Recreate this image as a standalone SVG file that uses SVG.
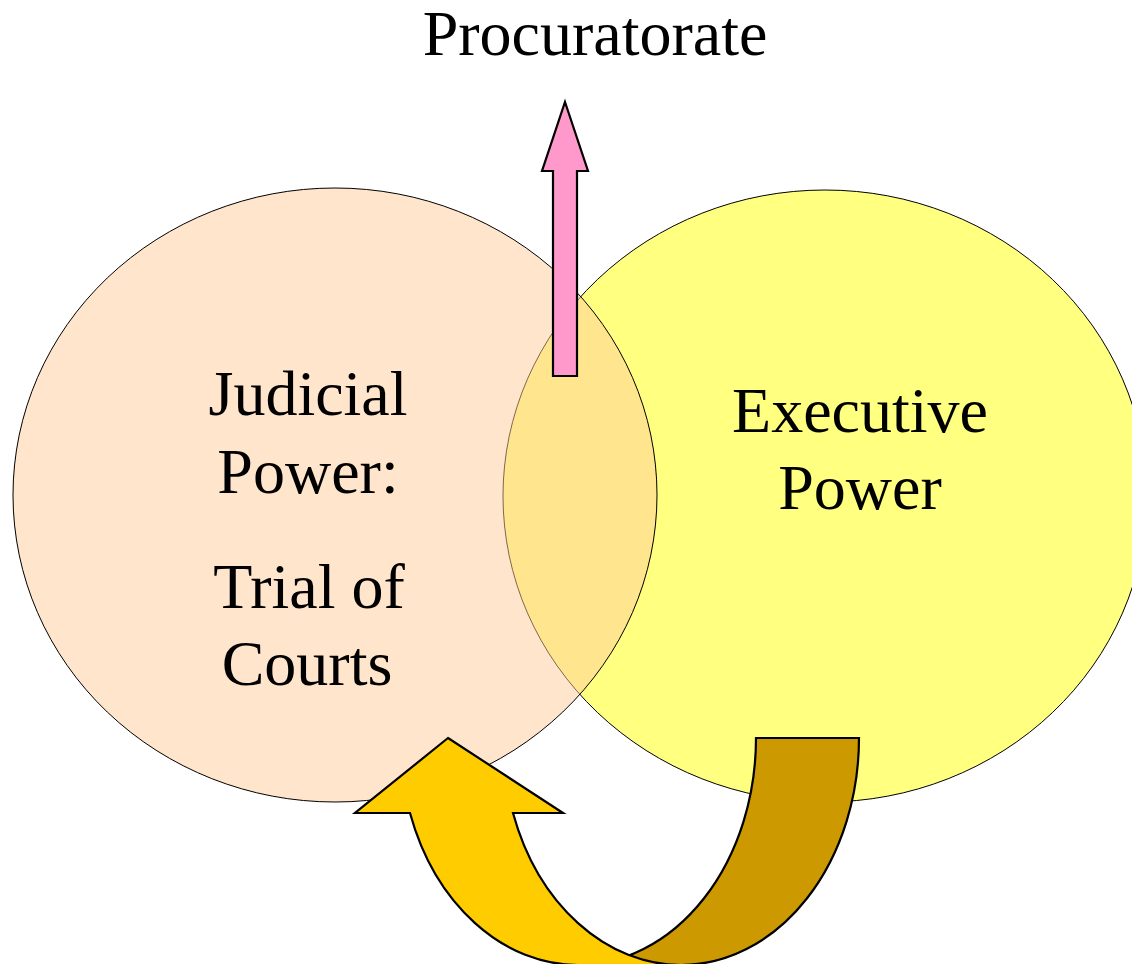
<svg xmlns="http://www.w3.org/2000/svg" width="1132" height="964" viewBox="0 0 1132 964">
  <style>
    .lbl { font-family: "Liberation Serif", "Times New Roman", serif; font-size: 64px; fill: #000; text-anchor: middle; }
    .arrow { stroke: #000; stroke-width: 2.2; stroke-linejoin: miter; }
  </style>
  <rect x="0" y="0" width="1132" height="964" fill="#ffffff"/>
  <g id="executive">
    <ellipse cx="825" cy="496" rx="322" ry="306" fill="#FFFF80" stroke="#000" stroke-width="1"/>
    <text class="lbl" x="860" y="432">Executive</text>
    <text class="lbl" x="860" y="509">Power</text>
  </g>
  <g id="judicial">
    <ellipse cx="335" cy="495" rx="322" ry="307" fill="#FFCC99" fill-opacity="0.5" stroke="#000" stroke-width="1"/>
    <text class="lbl" x="308" y="415">Judicial</text>
    <text class="lbl" x="308" y="493">Power:</text>
    <text class="lbl" x="309" y="608">Trial of</text>
    <text class="lbl" x="307" y="685">Courts</text>
  </g>
  <g id="procuratorate">
    <text class="lbl" x="595" y="55">Procuratorate</text>
  </g>
  <g id="connectors">
    <polygon class="arrow" fill="#FF99CC" points="565,102 588,171 577,171 577,376 553,376 553,171 542,171"/>
    <path class="arrow" fill="#CC9900" d="M 756,738 L 859,738 A 178 227 0 0 1 681,965 L 578,965 A 178 227 0 0 0 756,738 Z"/>
    <path class="arrow" fill="#FFCC00" d="M 448,738 L 563,813 L 513,813 A 178 227 0 0 0 681,965 L 578,965 A 178 227 0 0 1 410,813 L 355,813 Z"/>
  </g>
</svg>
